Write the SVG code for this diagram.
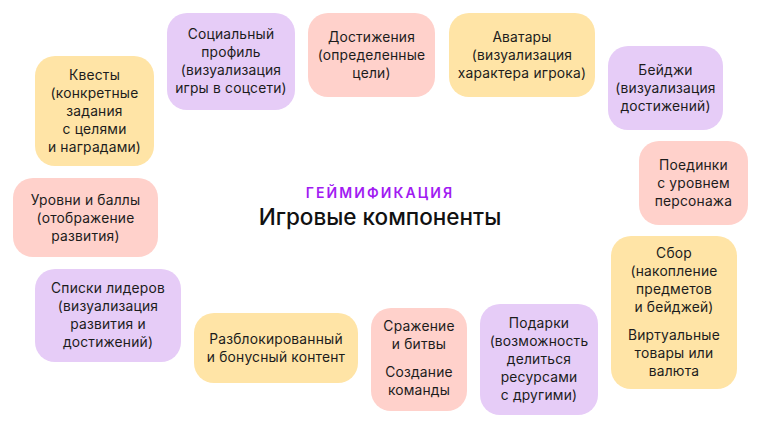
<svg xmlns="http://www.w3.org/2000/svg" width="760" height="429" viewBox="0 0 760 429">
<style>
.y{fill:#FFE4A6}.p{fill:#E6CCF7}.k{fill:#FFD1CB}
text{font-family:Inter,"Noto Sans","DejaVu Sans",sans-serif;font-size:13.8px;fill:#1c1c1c;text-anchor:middle;letter-spacing:0.2px}
.sub{font-size:14px;font-weight:600;fill:#A11BF2;letter-spacing:2.1px}
.ttl{font-size:22.5px;font-weight:500;fill:#111;letter-spacing:0}
</style>
<rect width="760" height="429" fill="#fff"/>
<g id="title">
<text class="sub" x="380" y="198">ГЕЙМИФИКАЦИЯ</text>
<text class="ttl" x="380" y="225">Игровые компоненты</text>
</g>
<g id="connectors"></g>
<g id="n-quests"><rect class="y" x="35" y="56" width="119" height="110" rx="20"/>
<text><tspan x="94.5" y="80">Квесты</tspan><tspan x="94.5" y="98">(конкретные</tspan><tspan x="94.5" y="116">задания</tspan><tspan x="94.5" y="134">с целями</tspan><tspan x="94.5" y="152">и наградами)</tspan></text></g>
<g id="n-social"><rect class="p" x="167" y="13" width="128" height="97" rx="20"/>
<text><tspan x="231" y="39">Социальный</tspan><tspan x="231" y="57">профиль</tspan><tspan x="231" y="75">(визуализация</tspan><tspan x="231" y="93">игры в соцсети)</tspan></text></g>
<g id="n-achieve"><rect class="k" x="308" y="13" width="127" height="84" rx="20"/>
<text><tspan x="371.5" y="42">Достижения</tspan><tspan x="371.5" y="60">(определенные</tspan><tspan x="371.5" y="78">цели)</tspan></text></g>
<g id="n-avatars"><rect class="y" x="449" y="13" width="146" height="84" rx="20"/>
<text><tspan x="522" y="42">Аватары</tspan><tspan x="522" y="60">(визуализация</tspan><tspan x="522" y="78">характера игрока)</tspan></text></g>
<g id="n-badges"><rect class="p" x="608" y="46" width="115" height="84" rx="20"/>
<text><tspan x="665.5" y="75">Бейджи</tspan><tspan x="665.5" y="93">(визуализация</tspan><tspan x="665.5" y="111">достижений)</tspan></text></g>
<g id="n-duels"><rect class="k" x="639" y="141" width="109" height="84" rx="20"/>
<text><tspan x="693.5" y="170">Поединки</tspan><tspan x="693.5" y="188">с уровнем</tspan><tspan x="693.5" y="206">персонажа</tspan></text></g>
<g id="n-collect"><rect class="y" x="611" y="236" width="126" height="153" rx="20"/>
<text><tspan x="674" y="258">Сбор</tspan><tspan x="674" y="276">(накопление</tspan><tspan x="674" y="294">предметов</tspan><tspan x="674" y="312">и бейджей)</tspan><tspan x="674" y="340">Виртуальные</tspan><tspan x="674" y="358">товары или</tspan><tspan x="674" y="376">валюта</tspan></text></g>
<g id="n-gifts"><rect class="p" x="480" y="304" width="118" height="111" rx="20"/>
<text><tspan x="539" y="328">Подарки</tspan><tspan x="539" y="346">(возможность</tspan><tspan x="539" y="364">делиться</tspan><tspan x="539" y="382">ресурсами</tspan><tspan x="539" y="400">с другими)</tspan></text></g>
<g id="n-battle"><rect class="k" x="371" y="308" width="96" height="103" rx="20"/>
<text><tspan x="419" y="331">Сражение</tspan><tspan x="419" y="349">и битвы</tspan><tspan x="419" y="377">Создание</tspan><tspan x="419" y="395">команды</tspan></text></g>
<g id="n-unlock"><rect class="y" x="194" y="313" width="164" height="70" rx="20"/>
<text><tspan x="276" y="344">Разблокированный</tspan><tspan x="276" y="362">и бонусный контент</tspan></text></g>
<g id="n-leaders"><rect class="p" x="35" y="269" width="146" height="93" rx="20"/>
<text><tspan x="108" y="293">Списки лидеров</tspan><tspan x="108" y="311">(визуализация</tspan><tspan x="108" y="329">развития и</tspan><tspan x="108" y="347">достижений)</tspan></text></g>
<g id="n-levels"><rect class="k" x="13" y="178" width="145" height="79" rx="20"/>
<text><tspan x="85.5" y="205">Уровни и баллы</tspan><tspan x="85.5" y="223">(отображение</tspan><tspan x="85.5" y="241">развития)</tspan></text></g>
</svg>
